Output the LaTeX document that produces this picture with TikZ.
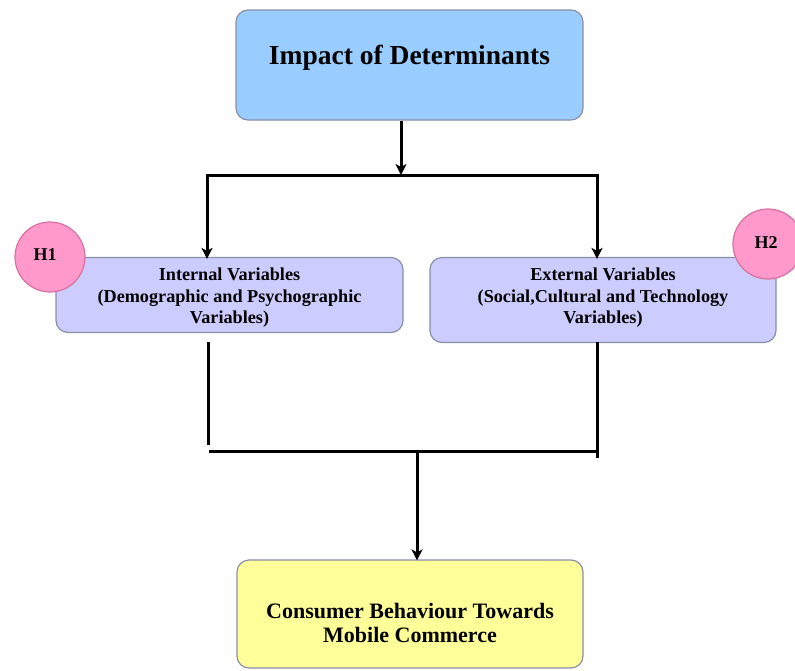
\documentclass[tikz,border=0pt]{standalone}
\usepackage{fontspec}
\setmainfont{Liberation Serif}
\usetikzlibrary{arrows.meta}
\definecolor{topblue}{HTML}{99CCFF}
\definecolor{varblue}{HTML}{CCCCFF}
\definecolor{botyellow}{HTML}{FFFF99}
\definecolor{hpink}{HTML}{FF99CC}
\definecolor{hedge}{HTML}{D9709F}
\definecolor{boxedge}{HTML}{8A8FA8}
\tikzset{
  box/.style={draw=boxedge, line width=1.2pt, rounded corners=12pt, inner sep=0pt},
  txt/.style={font=\bfseries, align=center, inner sep=0pt},
  conn/.style={line width=3pt, line cap=butt},
  arr/.style={conn, -{Stealth[length=11pt,width=11pt,inset=3pt]}},
  hyp/.style={circle, draw=hedge, line width=1.2pt, fill=hpink, minimum size=70pt, inner sep=0pt}
}
\begin{document}
\begin{tikzpicture}[x=1pt,y=-1pt]
\useasboundingbox (0,0) rectangle (795,670);
% boxes
\node[box, fill=topblue, minimum width=347pt, minimum height=110pt] (top) at (409.5,65) {};
\node[txt, font=\bfseries\fontsize{27.5}{30}\selectfont] (toptxt) at (409.5,58) {Impact of Determinants};
\node[box, fill=varblue, minimum width=347pt, minimum height=75pt] (left) at (229.5,295) {};
\node[txt, font=\bfseries\fontsize{18.2}{21.5}\selectfont] (lefttxt) at (229.5,298) {Internal Variables\\(Demographic and Psychographic\\Variables)};
\node[box, fill=varblue, minimum width=346pt, minimum height=85pt] (right) at (603,300) {};
\node[txt, font=\bfseries\fontsize{18.2}{21.5}\selectfont] (righttxt) at (603,298) {External Variables\\(Social,Cultural and Technology\\Variables)};
\node[box, fill=botyellow, minimum width=346pt, minimum height=108pt] (bot) at (410,614) {};
\node[txt, font=\bfseries\fontsize{22}{24.5}\selectfont] (bottxt) at (410,623) {Consumer Behaviour Towards\\Mobile Commerce};
% hypotheses
\node[hyp] (h1) at (50,257) {};
\node[txt, font=\bfseries\fontsize{18}{20}\selectfont] (h1txt) at (45,255) {H1};
\node[hyp] (h2) at (768,244) {};
\node[txt, font=\bfseries\fontsize{18}{20}\selectfont] (h2txt) at (766,243) {H2};
% connectors
\coordinate (jt) at (401,175);
\coordinate (jl) at (207,175);
\coordinate (jr) at (597,175);
\draw[arr] (top.south -| jt) -- (jt);
\draw[conn] ([xshift=-1.5pt]jl) -- ([xshift=1.5pt]jr);
\draw[arr] (jl) -- ([yshift=-2pt]left.north -| jl);
\draw[arr] (jr) -- ([yshift=-2pt]right.north -| jr);
\coordinate (la) at (208,342);
\coordinate (lb) at (208,445);
\coordinate (ra) at (597,342);
\coordinate (rb) at (597,458);
\coordinate (hl) at (209,451);
\coordinate (hr) at (597,451);
\coordinate (jm) at (417,451);
\draw[conn] (la) -- (lb);
\draw[conn] (ra) -- (rb);
\draw[conn] (hl) -- (hr);
\draw[arr] (jm) -- ([yshift=-1pt]bot.north -| jm);
\end{tikzpicture}
\end{document}
